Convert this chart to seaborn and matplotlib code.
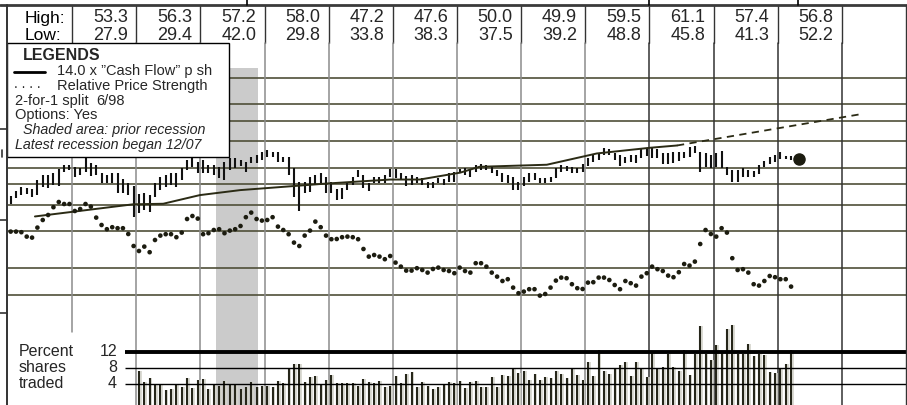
import numpy as np
import matplotlib
matplotlib.use("Agg")
import matplotlib.pyplot as plt
import matplotlib.transforms as mtransforms
from matplotlib.lines import Line2D
from matplotlib.patches import Rectangle
import seaborn as sns

# ---------------- data ----------------
hdr_years = list(range(1999, 2011))
hdr_high = [53.3, 56.3, 57.2, 58.0, 47.2, 47.6, 50.0, 49.9, 59.5, 61.1, 57.4, 56.8]
hdr_low = [27.9, 29.4, 42.0, 29.8, 33.8, 38.3, 37.5, 39.2, 48.8, 45.8, 41.3, 52.2]

# monthly price range, Jan 1998 .. Mar 2010
price_high = [
    35.2, 37.2, 38.9, 38.4, 38.0, 41.9, 44.3, 44.3, 45.3, 47.4, 49.6, 49.6,
    48.5, 47.9, 53.3, 50.7, 49.6, 45.3, 44.3, 45.3, 45.3, 42.4, 40.6, 39.3,
    36.0, 36.4, 35.6, 40.6, 43.4, 44.3, 45.3, 45.3, 47.9, 52.4, 56.3, 51.3,
    52.4, 49.6, 49.6, 48.5, 51.3, 53.6, 53.6, 52.4, 51.3, 54.2, 55.4, 57.2,
    58.0, 57.3, 57.3, 54.2, 54.2, 47.9, 41.1, 41.1, 43.4, 44.3, 45.3, 43.4,
    41.1, 38.0, 38.4, 40.6, 43.4, 46.9, 44.3, 40.6, 43.4, 43.4, 44.3, 47.2,
    47.6, 45.3, 43.8, 44.3, 43.4, 42.9, 41.1, 41.1, 42.9, 42.4, 45.3, 45.9,
    47.4, 47.9, 46.9, 49.6, 50.0, 49.6, 49.0, 46.9, 45.3, 44.3, 43.4, 41.1,
    43.4, 45.3, 45.3, 42.9, 42.9, 43.4, 47.9, 49.6, 49.0, 48.5, 47.9, 49.9,
    53.6, 55.4, 56.6, 59.5, 58.6, 56.6, 55.4, 54.2, 55.4, 55.4, 58.6, 59.2,
    60.5, 58.6, 56.6, 56.6, 57.3, 57.3, 57.3, 59.9, 61.1, 57.3, 56.6, 55.4,
    56.6, 57.4, 48.5, 46.9, 46.9, 47.9, 46.9, 46.4, 49.6, 51.8, 54.2, 55.4,
    56.8, 54.8, 54.8,
]
price_low = [
    32.2, 34.4, 35.6, 36.0, 34.8, 35.6, 38.9, 38.4, 39.7, 39.3, 45.9, 46.9,
    43.4, 44.3, 45.9, 43.8, 44.3, 40.6, 40.6, 40.6, 36.4, 36.4, 35.6, 27.9,
    29.4, 30.1, 29.5, 34.8, 37.6, 38.9, 39.7, 38.9, 41.9, 46.9, 48.5, 45.3,
    45.3, 45.3, 44.3, 42.9, 42.0, 46.9, 47.9, 49.0, 45.9, 50.7, 50.7, 52.4,
    54.2, 54.2, 51.3, 51.3, 44.3, 34.8, 29.8, 36.4, 36.8, 39.7, 40.6, 36.4,
    36.4, 33.8, 34.0, 37.6, 39.7, 43.4, 38.4, 37.2, 40.6, 40.6, 40.6, 43.4,
    42.9, 41.9, 39.3, 39.7, 40.6, 39.7, 38.4, 38.3, 40.6, 39.7, 41.1, 41.1,
    45.3, 44.3, 43.4, 45.9, 46.9, 46.9, 45.3, 43.8, 41.1, 40.6, 37.5, 37.6,
    39.2, 41.1, 41.9, 40.6, 40.6, 41.1, 42.9, 45.9, 46.4, 45.3, 45.3, 45.9,
    49.0, 51.3, 52.4, 55.4, 55.4, 52.4, 48.8, 50.7, 51.3, 50.7, 53.6, 54.8,
    53.6, 53.6, 50.1, 50.1, 50.7, 51.8, 53.6, 54.2, 56.6, 45.8, 48.5, 47.9,
    48.5, 47.9, 44.3, 41.3, 41.3, 43.4, 43.4, 43.4, 44.8, 48.5, 50.1, 51.3,
    53.0, 53.0, 52.2,
]
rel_strength = [
    0.867, 0.867, 0.864, 0.842, 0.837, 0.887, 0.925, 0.950, 0.989, 1.015, 1.005, 1.005,
    0.970, 0.980, 1.005, 0.992, 0.937, 0.900, 0.879, 0.889, 0.884, 0.884, 0.855, 0.795,
    0.770, 0.792, 0.764, 0.825, 0.847, 0.854, 0.854, 0.839, 0.862, 0.930, 0.945, 0.932,
    0.854, 0.859, 0.875, 0.879, 0.859, 0.872, 0.879, 0.895, 0.939, 0.962, 0.930, 0.922,
    0.925, 0.939, 0.892, 0.875, 0.854, 0.812, 0.795, 0.847, 0.872, 0.917, 0.889, 0.847,
    0.829, 0.830, 0.839, 0.842, 0.839, 0.829, 0.780, 0.742, 0.750, 0.742, 0.729, 0.745,
    0.712, 0.692, 0.672, 0.672, 0.684, 0.675, 0.662, 0.680, 0.687, 0.675, 0.670, 0.659,
    0.687, 0.670, 0.662, 0.709, 0.709, 0.692, 0.662, 0.642, 0.620, 0.629, 0.587, 0.559,
    0.567, 0.579, 0.579, 0.547, 0.555, 0.587, 0.622, 0.637, 0.634, 0.604, 0.584, 0.580,
    0.612, 0.614, 0.637, 0.637, 0.625, 0.600, 0.579, 0.620, 0.609, 0.597, 0.642, 0.659,
    0.692, 0.679, 0.670, 0.647, 0.639, 0.664, 0.705, 0.697, 0.717, 0.805, 0.875, 0.855,
    0.842, 0.884, 0.862, 0.734, 0.675, 0.679, 0.662, 0.604, 0.597, 0.620, 0.645, 0.639,
    0.629, 0.629, 0.592,
]
# percent shares traded, Jan 2000 .. Mar 2010
volume_pct = [
    7.25, 4.6, 5.4, 3.75, 3.75, 2.5, 2.7, 3.9, 3.3, 5.4, 3.1, 5.0,
    5.25, 2.75, 3.75, 3.5, 4.75, 4.0, 3.9, 2.7, 3.2, 4.6, 3.2, 3.5,
    3.5, 3.2, 4.8, 4.2, 7.9, 9.0, 9.0, 4.4, 5.7, 6.0, 3.9, 5.0,
    6.25, 4.2, 4.2, 4.2, 4.2, 3.5, 5.2, 4.6, 4.2, 4.75, 3.3, 3.5,
    6.0, 4.3, 6.5, 6.9, 3.3, 4.4, 3.5, 2.7, 3.2, 4.0, 4.6, 4.3,
    4.75, 3.1, 4.4, 4.75, 3.2, 3.2, 5.7, 3.3, 6.25, 6.1, 7.75, 6.8,
    7.25, 5.0, 6.5, 5.0, 5.7, 5.6, 7.3, 6.5, 5.6, 7.75, 6.25, 5.0,
    9.6, 6.0, 12.5, 7.3, 6.5, 7.75, 8.75, 9.6, 6.1, 9.6, 7.7, 5.8,
    11.8, 7.75, 8.2, 11.5, 8.2, 7.3, 12.5, 6.25, 11.4, 18.5, 11.5, 10.0,
    13.75, 11.7, 17.75, 18.75, 11.5, 11.5, 13.9, 11.0, 11.5, 11.25, 6.9, 6.8,
    7.9, 8.9, 12.5,
]
vol_start_year = 2000

cf_years = [1998.42, 1999.95, 2000.42, 2000.99, 2001.62, 2002.97, 2003.96,
            2004.42, 2005.05, 2005.35, 2006.40, 2007.18, 2008.01, 2008.43]
cf_values = [28.2, 32.2, 32.4, 35.6, 37.6, 40.4, 42.2,
             42.2, 45.5, 48.5, 49.6, 56.1, 59.7, 61.2]
proj_years = [2008.43, 2011.31]
proj_values = [61.2, 86.3]
recent_year, recent_price = 2010.33, 53.0

grid_prices = [128, 96, 80, 64, 48, 40, 32, 24, 16, 12]
vol_levels = [12, 8, 4]
recession = (2001.25, 2001.89)

# ---------------- figure ----------------
W, H = 907, 405
sns.set_theme(style="white")
plt.rcParams['font.family'] = ['Liberation Sans', 'DejaVu Sans']

fig = plt.figure(figsize=(W / 100, H / 100), dpi=100)
fig.patch.set_facecolor('white')


def fx(px):
    return px / W


def fy(py):
    return 1 - py / H


def fr(py):  # axes fraction for pixel row inside the main axes (top 5, bottom 405)
    return (405 - py) / 400


ax = fig.add_axes([fx(8), 0, fx(906) - fx(8), fy(5)])
ax.set_xlim(1998, 2012)
ax.set_yscale('log')
ax.set_ylim(3.60, 283.7)
ax.set_axis_off()

ink = '#1c1c10'
olive = '#4f4f38'

# recession shading
ax.axvspan(recession[0], recession[1], ymin=0, ymax=fr(68), color='#cbcbcb', lw=0, zorder=0.5)

# price grid
for p in grid_prices:
    ax.axhline(p, color=olive, lw=1.2, zorder=1)

# year lines
for yr in range(1999, 2012):
    ax.axvline(yr, ymin=fr(43), ymax=1, color='#333333', lw=1.0, zorder=1)
    col = '#8c8c8c' if yr <= 2007 else '#333333'
    if yr == 1999:
        ax.axvline(yr, ymin=fr(332), ymax=fr(157), color=col, lw=1.1, zorder=1)
    else:
        ax.axvline(yr, ymin=0, ymax=fr(43), color=col, lw=1.1, zorder=1)

months = np.arange(len(price_high))
t = 1998 + (months + 0.5) / 12

ax.vlines(t, price_low, price_high, color='#111111', lw=1.5, zorder=3)

sns.lineplot(x=cf_years, y=cf_values, ax=ax, color='#2b2b15', lw=1.4,
             sort=False, estimator=None, zorder=3)
ax.plot(proj_years, proj_values, color='#2b2b15', lw=1.3, ls=(0, (4, 3)), zorder=3)
ax.plot([recent_year], [recent_price], 'o', ms=8, color=ink, zorder=5)

# volume panel
ax_vol = ax.twinx()
ax_vol.set_ylim(-1.25, 98.75)
ax_vol.set_axis_off()
tv = vol_start_year + (np.arange(len(volume_pct)) + 0.5) / 12
ax_vol.vlines(tv + 0.028, -1.25, volume_pct, color='#d4d4cc', lw=1.2, zorder=2)
ax_vol.vlines(tv, -1.25, volume_pct, color='#26261a', lw=1.5, zorder=3)
for lv in vol_levels:
    ax_vol.hlines(lv, 1999.82, 2012, color='black', lw=2.8 if lv == 12 else 1.0, zorder=4)

# relative price strength
ax_rs = ax.twinx()
ax_rs.set_ylim(0, 2)
ax_rs.set_axis_off()
sns.scatterplot(x=t, y=rel_strength, ax=ax_rs, s=11, color=ink, edgecolor='none',
                linewidth=0, zorder=4)

# ---------------- header ----------------
blend = mtransforms.blended_transform_factory(ax.transData, fig.transFigure)
fig.text(fx(25), fy(18), "High:", ha='left', va='center', fontsize=12.5, color='black')
fig.text(fx(25), fy(35), "Low:", ha='left', va='center', fontsize=12.5, color='black')
for yr, hi, lo in zip(hdr_years, hdr_high, hdr_low):
    ax.text(yr + 1 - 0.13, fy(18), f"{hi:.1f}", transform=blend, ha='right', va='center',
            fontsize=13, clip_on=False)
    ax.text(yr + 1 - 0.13, fy(35), f"{lo:.1f}", transform=blend, ha='right', va='center',
            fontsize=13, clip_on=False)

# frame lines
def fline(x0, y0, x1, y1, lw=1.0, color='#333333', z=12):
    fig.add_artist(Line2D([fx(x0), fx(x1)], [fy(y0), fy(y1)], lw=lw, color=color,
                          transform=fig.transFigure, zorder=z))

fline(0, 5, 907, 5, lw=2.0, color='#3a3a3a')
fline(7, 5, 7, 405, lw=1.4)
fline(906, 5, 906, 405, lw=1.0)
for xx in (247, 649, 798):
    fline(xx, 0, xx, 5, lw=1.2, color='black')
for yy in (129, 220, 313):
    fline(0, yy, 7, yy, lw=1.2)
fline(2, 150, 2, 157, lw=1.2)

# ---------------- legend box ----------------
fig.add_artist(Rectangle((fx(7), fy(157)), fx(229) - fx(7), fy(43) - fy(157),
                         transform=fig.transFigure, facecolor='white', edgecolor='black',
                         lw=1.0, zorder=10))
fig.text(fx(23), fy(56), "LEGENDS", fontweight='bold', fontsize=11.5, va='center', zorder=11)
fig.add_artist(Line2D([fx(14), fx(45)], [fy(71.5), fy(71.5)], lw=2.0, color='black',
                      transform=fig.transFigure, zorder=11))
fig.text(fx(57), fy(71.5), "14.0 x \u201dCash Flow\u201d p sh", fontsize=10.5, va='center', zorder=11)
fig.text(fx(14), fy(84), ". . . .", fontsize=10, va='center', zorder=11)
fig.text(fx(57), fy(86), "Relative Price Strength", fontsize=10.5, va='center', zorder=11)
fig.text(fx(15), fy(101), "2-for-1 split", fontsize=10.5, va='center', zorder=11)
fig.text(fx(96), fy(101), "6/98", fontsize=10.5, va='center', zorder=11)
fig.text(fx(15), fy(115), "Options: Yes", fontsize=10.5, va='center', zorder=11)
fig.text(fx(23), fy(130), "Shaded area: prior recession", fontsize=10.3, style='italic',
         va='center', zorder=11)
fig.text(fx(15), fy(145), "Latest recession began 12/07", fontsize=10.3, style='italic',
         va='center', zorder=11)

# ---------------- volume labels ----------------
for lab, lv, yy in zip(["Percent", "shares", "traded"], vol_levels, (352, 368, 384)):
    fig.text(fx(19), fy(yy), lab, fontsize=11.5, va='center', zorder=11)
    fig.text(fx(117), fy(yy), str(lv), fontsize=11.5, va='center', ha='right', zorder=11)

fig.savefig('out.png', dpi=100)
